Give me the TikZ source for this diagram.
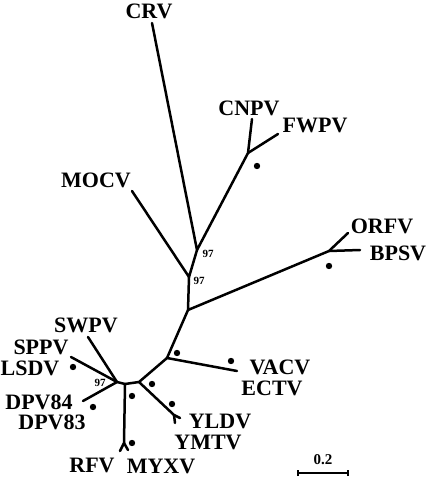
\documentclass[tikz,border=0pt]{standalone}
\usepackage{fontspec}
\setmainfont{Liberation Serif}

\begin{document}
\begin{tikzpicture}[x=1pt,y=-1pt]
    \tikzstyle{every node}+=[inner sep=0pt]
    \tikzstyle{taxon}=[font=\fontsize{22}{22}\selectfont\bfseries]
    \tikzstyle{boot}=[font=\fontsize{11}{11}\selectfont\bfseries]
    \tikzstyle{branch}=[line width=2.5pt, line cap=round, line join=round]
    \useasboundingbox (0,0) rectangle (428,478);
    % inner nodes of the tree
    \coordinate (nA) at (197,250);
    \coordinate (nB) at (189,277);
    \coordinate (nC) at (188,310);
    \coordinate (nG) at (167,358);
    \coordinate (nF) at (139,382);
    \coordinate (nE) at (125,384);
    \coordinate (nD) at (117,382);
    \coordinate (nJ) at (248,153);
    \coordinate (nK) at (329,251);
    \coordinate (nM) at (124,443);
    \coordinate (nY) at (174,415);
    % tips
    \coordinate (crv) at (152,23);
    \coordinate (cnpv) at (252,119);
    \coordinate (fwpv) at (278,134);
    \coordinate (mocv) at (132,191);
    \coordinate (orfv) at (348,233);
    \coordinate (bpsv) at (360,250);
    \coordinate (vacv) at (237,371);
    \coordinate (yldv) at (180,418);
    \coordinate (ymtv) at (175,423);
    \coordinate (rfv) at (120,451);
    \coordinate (myxv) at (128,450);
    \coordinate (swpv) at (88,337);
    \coordinate (sppv) at (71,357);
    \coordinate (dpv) at (83,401);
    % branches
    \draw [branch] (crv) -- (nA) -- (nJ) -- (cnpv);
    \draw [branch] (nJ) -- (fwpv);
    \draw [branch] (nA) -- (nB) -- (mocv);
    \draw [branch] (nB) -- (nC) -- (nK) -- (orfv);
    \draw [branch] (nK) -- (bpsv);
    \draw [branch] (nC) -- (nG) -- (vacv);
    \draw [branch] (nG) -- (nF) -- (nY) -- (yldv);
    \draw [branch] (nY) -- (ymtv);
    \draw [branch] (nF) -- (nE) -- (nM) -- (rfv);
    \draw [branch] (nM) -- (myxv);
    \draw [branch] (nE) -- (nD) -- (swpv);
    \draw [branch] (nD) -- (sppv);
    \draw [branch] (nD) -- (dpv);
    % taxon names
    \node [taxon] (tCRV) at (149,11) {CRV};
    \node [taxon] (tCNPV) at (249,108) {CNPV};
    \node [taxon] (tFWPV) at (315,125) {FWPV};
    \node [taxon] (tMOCV) at (96,180) {MOCV};
    \node [taxon] (tORFV) at (382,226) {ORFV};
    \node [taxon] (tBPSV) at (398,253) {BPSV};
    \node [taxon] (tVACV) at (280,367) {VACV};
    \node [taxon] (tECTV) at (272,388) {ECTV};
    \node [taxon] (tYLDV) at (220,421) {YLDV};
    \node [taxon] (tYMTV) at (208,442) {YMTV};
    \node [taxon] (tRFV) at (92,465) {RFV};
    \node [taxon] (tMYXV) at (161,466) {MYXV};
    \node [taxon] (tSWPV) at (86,325) {SWPV};
    \node [taxon] (tSPPV) at (41,347) {SPPV};
    \node [taxon] (tLSDV) at (30,368) {LSDV};
    \node [taxon] (tDPVa) at (39,402) {DPV84};
    \node [taxon] (tDPVb) at (52,422) {DPV83};
    % bootstrap values
    \node [boot] (bA) at (208,254) {97};
    \node [boot] (bB) at (199,281) {97};
    \node [boot] (bD) at (100,383) {97};
    \foreach \p in {(257,166),(329,266),(73,367),(93,407),(132,443),(132,396),(152,384),(172,404),(177,353),(231,361)}
        \fill \p circle (3.2pt);
    % scale bar
    \node [boot, font=\fontsize{15}{15}\selectfont\bfseries] (sLab) at (323,460) {0.2};
    \coordinate (s0) at (298,473);
    \coordinate (s1) at (348,473);
    \draw [line width=1.6pt] (s0) -- (s1);
    \draw [line width=1.6pt] ([yshift=-3pt]s0) -- ([yshift=3pt]s0);
    \draw [line width=1.6pt] ([yshift=-3pt]s1) -- ([yshift=3pt]s1);
\end{tikzpicture}
\end{document}
